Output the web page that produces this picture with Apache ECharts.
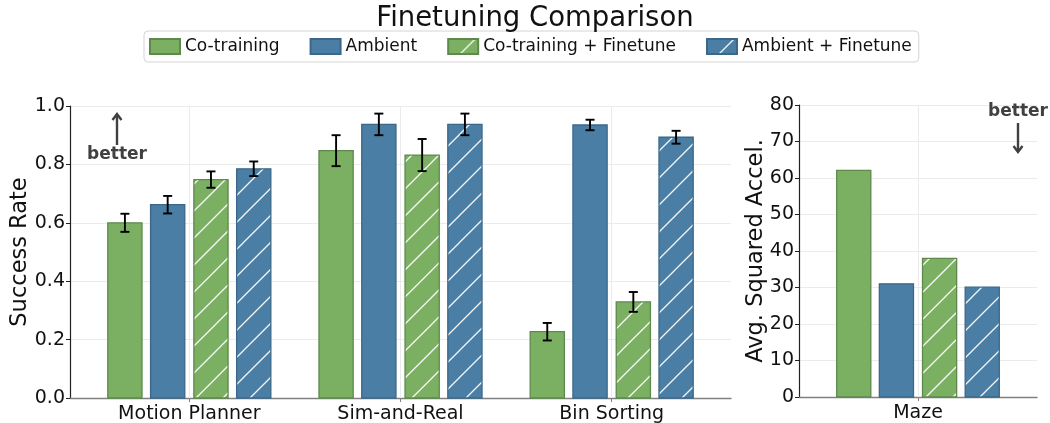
<!DOCTYPE html>
<html>
<head>
<meta charset="utf-8">
<script src="https://cdn.jsdelivr.net/npm/echarts@6/dist/echarts.min.js"></script>
<style>
  html, body { margin: 0; padding: 0; background: #fff; }
  #chart { width: 1050px; height: 423px; }
</style>
</head>
<body>
<div id="chart"></div>
<script>
// ---- data ----
const categories = ['Motion Planner', 'Sim-and-Real', 'Bin Sorting'];
const methodNames = ['Co-training', 'Ambient', 'Co-training + Finetune', 'Ambient + Finetune'];

const coTraining      = [0.600, 0.847, 0.227];
const coTrainingErr   = [0.031, 0.053, 0.030];
const ambient         = [0.662, 0.937, 0.935];
const ambientErr      = [0.030, 0.037, 0.018];
const coTrainingFt    = [0.748, 0.832, 0.329];
const coTrainingFtErr = [0.028, 0.055, 0.034];
const ambientFt       = [0.785, 0.937, 0.893];
const ambientFtErr    = [0.025, 0.037, 0.022];

const mazeCategories = ['Maze'];
const mazeAccel = [62.1, 31.0, 38.0, 30.1];   // one value per method

// ---- styling ----
const GREEN = '#7bb062', GREEN_EDGE = '#5d8a4c';
const BLUE = '#4a7ea4', BLUE_EDGE = '#3b6888';
const BAR_W = 0.162;                       // bar width in category units
const OFFSETS = [-0.305, -0.1025, 0.1025, 0.305];
const FONT = 'DejaVu Sans';

function hatchPattern(bg) {
  const s = 27;
  const c = document.createElement('canvas');
  c.width = s; c.height = s;
  const g = c.getContext('2d');
  g.fillStyle = bg;
  g.fillRect(0, 0, s, s);
  g.strokeStyle = 'rgba(255,255,255,0.95)';
  g.lineWidth = 1.3;
  g.beginPath();
  g.moveTo(-3, s + 3); g.lineTo(s + 3, -3);
  g.moveTo(-3, 3); g.lineTo(3, -3);
  g.moveTo(s - 3, s + 3); g.lineTo(s + 3, s - 3);
  g.stroke();
  return { image: c, repeat: 'repeat' };
}

const fills = [GREEN, BLUE, hatchPattern(GREEN), hatchPattern(BLUE)];
const edges = [GREEN_EDGE, BLUE_EDGE, GREEN_EDGE, BLUE_EDGE];
const leftValues = [coTraining, ambient, coTrainingFt, ambientFt];
const leftErrors = [coTrainingErr, ambientErr, coTrainingFtErr, ambientFtErr];

function barRenderer(k, withErr) {
  return function (params, api) {
    const cat = api.value(0), v = api.value(1);
    const cx = cat + OFFSETS[k];
    const p0 = api.coord([cx - BAR_W / 2, v]);
    const p1 = api.coord([cx + BAR_W / 2, 0]);
    const children = [{
      type: 'rect',
      shape: { x: p0[0], y: p0[1], width: p1[0] - p0[0], height: p1[1] - p0[1] },
      style: { fill: fills[k], stroke: edges[k], lineWidth: 1.3 }
    }];
    if (withErr) {
      const e = api.value(2);
      const top = api.coord([cx, v + e]);
      const bot = api.coord([cx, v - e]);
      const cap = 4.5;
      const st = { stroke: '#000', lineWidth: 1.9 };
      children.push(
        { type: 'line', shape: { x1: top[0], y1: top[1], x2: bot[0], y2: bot[1] }, style: st, z2: 10 },
        { type: 'line', shape: { x1: top[0] - cap, y1: top[1], x2: top[0] + cap, y2: top[1] }, style: st, z2: 10 },
        { type: 'line', shape: { x1: bot[0] - cap, y1: bot[1], x2: bot[0] + cap, y2: bot[1] }, style: st, z2: 10 }
      );
    }
    return { type: 'group', children: children };
  };
}

const series = [];
// vertical grid lines at category centres
series.push({
  type: 'line', xAxisIndex: 0, yAxisIndex: 0, data: [], z: 0, silent: true,
  markLine: {
    symbol: 'none', silent: true, label: { show: false },
    lineStyle: { color: '#ebebeb', width: 1, type: 'solid' },
    data: categories.map((c, i) => ({ xAxis: i }))
  }
});
series.push({
  type: 'line', xAxisIndex: 1, yAxisIndex: 1, data: [], z: 0, silent: true,
  markLine: {
    symbol: 'none', silent: true, label: { show: false },
    lineStyle: { color: '#ebebeb', width: 1, type: 'solid' },
    data: mazeCategories.map((c, i) => ({ xAxis: i }))
  }
});

methodNames.forEach((name, k) => {
  series.push({
    name: name, type: 'custom', xAxisIndex: 0, yAxisIndex: 0, z: 3,
    itemStyle: { color: fills[k], borderColor: edges[k], borderWidth: 1.3 },
    encode: { x: 0, y: 1 },
    data: categories.map((c, i) => [i, leftValues[k][i], leftErrors[k][i]]),
    renderItem: barRenderer(k, true)
  });
  series.push({
    name: name, type: 'custom', xAxisIndex: 1, yAxisIndex: 1, z: 3,
    itemStyle: { color: fills[k], borderColor: edges[k], borderWidth: 1.3 },
    encode: { x: 0, y: 1 },
    data: mazeCategories.map((c, i) => [i, mazeAccel[k]]),
    renderItem: barRenderer(k, false)
  });
});

function xAxisFor(gridIndex, cats, max) {
  const idx = cats.map((c, i) => i);
  return {
    type: 'value', gridIndex: gridIndex, min: -0.565, max: max,
    axisLine: { show: true, onZero: false, lineStyle: { color: '#808080', width: 1.3 } },
    axisTick: { show: true, customValues: idx, length: 4, lineStyle: { color: '#808080' } },
    axisLabel: {
      customValues: idx, formatter: v => cats[Math.round(v)] || '',
      fontFamily: FONT, fontSize: 19, color: '#111', margin: 7
    },
    splitLine: { show: false }
  };
}

function yAxisFor(gridIndex, max, interval, name, fmt, gap) {
  return {
    type: 'value', gridIndex: gridIndex, min: 0, max: max, interval: interval,
    name: name, nameLocation: 'middle', nameGap: gap, nameMoveOverlap: false,
    nameTextStyle: { fontFamily: FONT, fontSize: 22.5, color: '#111' },
    axisLine: { show: true, onZero: false, lineStyle: { color: '#222', width: 1.2 } },
    axisTick: { show: true, length: 4, lineStyle: { color: '#222' } },
    axisLabel: { fontFamily: FONT, fontSize: 19, color: '#111', margin: 5, formatter: fmt },
    splitLine: { show: true, lineStyle: { color: '#ebebeb', width: 1 } }
  };
}

function arrow(x, yFrom, yTo) {
  const dir = yTo < yFrom ? -1 : 1;
  return [
    { type: 'line', z: 100, shape: { x1: x, y1: yFrom, x2: x, y2: yTo - dir * 2 },
      style: { stroke: '#404040', lineWidth: 2.4 } },
    { type: 'polyline', z: 100, shape: { points: [[x - 4.5, yTo - dir * 6], [x, yTo], [x + 4.5, yTo - dir * 6]] },
      style: { stroke: '#404040', lineWidth: 2.4, fill: null } }
  ];
}

const option = {
  animation: false,
  backgroundColor: '#ffffff',
  title: {
    text: 'Finetuning Comparison', left: 530, top: 0, textAlign: 'center',
    textStyle: { fontFamily: FONT, fontSize: 27.5, fontWeight: 'normal', color: '#111' }
  },
  legend: {
    left: 144, top: 31,
    data: methodNames.map((n, k) => ({ name: n, icon: 'rect' })),
    itemWidth: 30, itemHeight: 15, itemGap: 30,
    padding: [7, 7, 7, 5],
    borderColor: '#d4d4d4', borderWidth: 1, borderRadius: 4,
    textStyle: { fontFamily: FONT, fontSize: 17, color: '#111' },
    selectedMode: false
  },
  grid: [
    { left: 70, right: 319, top: 106, bottom: 25, outerBoundsMode: 'none', containLabel: false },
    { left: 799, right: 13, top: 105, bottom: 26, outerBoundsMode: 'none', containLabel: false }
  ],
  xAxis: [xAxisFor(0, categories, 2.565), xAxisFor(1, mazeCategories, 0.565)],
  yAxis: [
    yAxisFor(0, 1, 0.2, 'Success Rate', v => v.toFixed(1), 38),
    yAxisFor(1, 80, 10, 'Avg. Squared Accel.', v => String(v), 31)
  ],
  graphic: [
    ...arrow(117, 145, 114),
    { type: 'text', z: 100, x: 117, y: 146, style: { text: 'better', fontFamily: FONT, fontSize: 17,
      fontWeight: 'bold', fill: '#404040', align: 'center', verticalAlign: 'top' } },
    { type: 'text', z: 100, x: 1018, y: 103, style: { text: 'better', fontFamily: FONT, fontSize: 17,
      fontWeight: 'bold', fill: '#404040', align: 'center', verticalAlign: 'top' } },
    ...arrow(1018, 123, 152)
  ],
  series: series
};

const chart = echarts.init(document.getElementById('chart'), null, { renderer: 'canvas' });
chart.setOption(option);
</script>
</body>
</html>
